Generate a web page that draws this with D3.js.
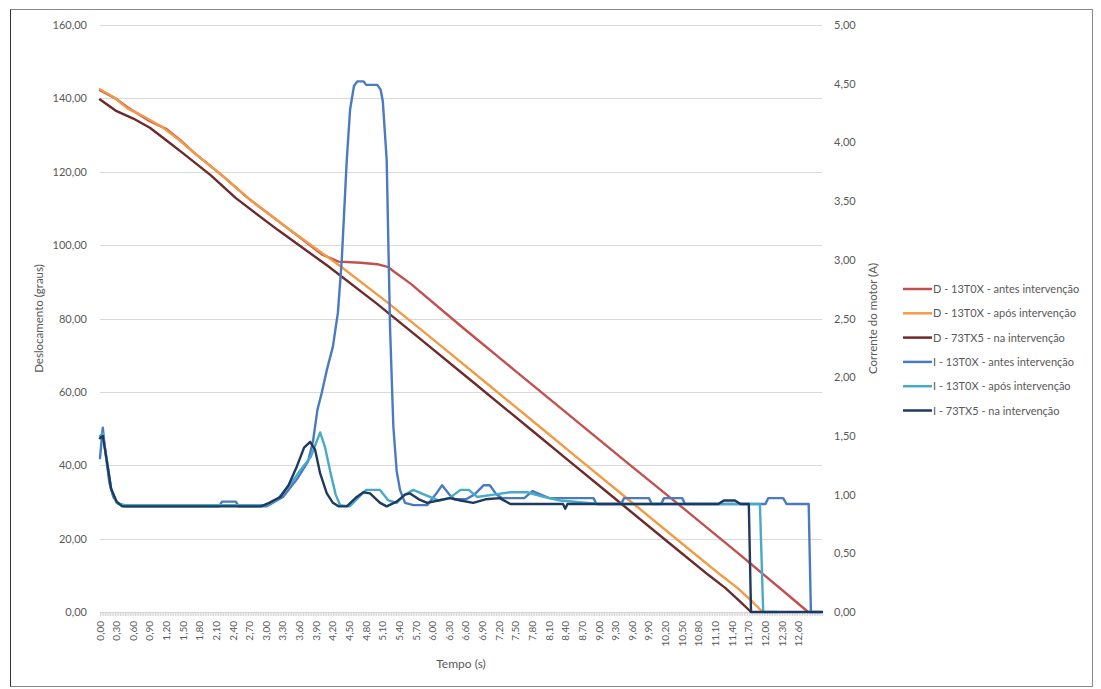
<!DOCTYPE html>
<html>
<head>
<meta charset="utf-8">
<script src="https://cdn.jsdelivr.net/npm/d3@7"></script>
<style>
    body { margin: 0; background: #fff; }
    text { font-family: Lato, "Open Sans", sans-serif; fill: #595959; }
</style>
</head>
<body>
<div id="graphic"></div>
<script>
// Dati: [tempo (s), valore]
var dAntes = [[0,142.2],[0.3,139.8],[0.5,137.5],[0.9,133.8],[1.2,131.6],[1.45,128.6],[1.71,125],[2.2,119],[2.67,112.8],[3.43,104.1],[4.0,97.5],[4.3,95.5],[4.7,95.2],[5.0,94.8],[5.2,94],[5.3,92.8],[5.6,89.5],[6.55,77.4],[7.5,65.6],[8.5,53.2],[9.5,40.8],[10.5,28.5],[11.5,16.1],[12.3,6],[12.77,0]];
var dApos = [[0,142.5],[0.25,140.3],[0.5,137.2],[0.8,135],[1.12,132.2],[1.4,129],[1.71,125],[2.2,119],[2.67,112.8],[3.43,104.1],[4.33,94.3],[5.2,84.2],[5.95,75],[7.0,62],[8.0,49.6],[8.66,41.4],[9.5,31],[10.5,18.6],[11.2,10],[11.5,6.5],[11.75,3],[11.95,0]];
var dNa = [[0,139.7],[0.3,136.5],[0.6,134.5],[0.9,132],[1.2,128.5],[1.5,125],[2.0,119],[2.45,112.8],[3.21,104.1],[4.11,94.3],[4.98,84.2],[5.73,75],[6.78,62],[7.78,49.6],[8.44,41.4],[9.28,31],[10.28,18.6],[10.98,10],[11.28,6.5],[11.53,3],[11.74,0]];

var iAntes = [[0,1.31],[0.05,1.57],[0.1,1.35],[0.17,1.1],[0.24,0.98],[0.33,0.92],[0.45,0.9],[2.15,0.9],[2.2,0.94],[2.45,0.94],[2.5,0.9],[3.0,0.9],[3.3,0.98],[3.55,1.13],[3.75,1.28],[3.84,1.45],[3.92,1.72],[4.0,1.87],[4.09,2.06],[4.2,2.26],[4.29,2.55],[4.36,3.0],[4.45,3.85],[4.51,4.28],[4.58,4.48],[4.64,4.52],[4.75,4.52],[4.8,4.49],[5.0,4.49],[5.06,4.45],[5.1,4.35],[5.17,3.85],[5.23,2.43],[5.29,1.58],[5.35,1.2],[5.41,1.04],[5.5,0.93],[5.65,0.91],[5.9,0.91],[6.05,1.0],[6.17,1.08],[6.3,1.0],[6.4,0.96],[6.6,0.96],[6.75,1.0],[6.92,1.08],[7.03,1.08],[7.15,1.0],[7.25,0.97],[7.65,0.97],[7.8,1.03],[7.95,1.0],[8.1,0.97],[8.9,0.97],[8.95,0.92],[9.4,0.92],[9.45,0.97],[9.9,0.97],[9.95,0.92],[10.12,0.92],[10.17,0.97],[10.5,0.97],[10.55,0.92],[12.0,0.92],[12.05,0.97],[12.32,0.97],[12.38,0.92],[12.78,0.92],[12.82,0],[13.02,0]];
var iApos = [[0,1.5],[0.05,1.52],[0.12,1.3],[0.2,1.05],[0.3,0.93],[0.45,0.91],[3.0,0.91],[3.2,0.96],[3.45,1.1],[3.6,1.2],[3.8,1.32],[3.97,1.53],[4.06,1.4],[4.15,1.2],[4.25,1.0],[4.33,0.91],[4.5,0.9],[4.65,0.97],[4.8,1.04],[5.05,1.04],[5.2,0.95],[5.35,0.93],[5.5,1.0],[5.65,1.04],[5.85,1.0],[6.1,0.95],[6.3,0.97],[6.5,1.04],[6.65,1.04],[6.8,0.98],[7.1,1.0],[7.4,1.02],[7.7,1.02],[8.0,0.98],[8.3,0.95],[9.0,0.92],[11.9,0.92],[11.96,0],[12.2,0]];
var iNa = [[0,1.48],[0.05,1.5],[0.12,1.3],[0.2,1.05],[0.3,0.94],[0.4,0.9],[2.9,0.9],[3.05,0.93],[3.25,0.98],[3.4,1.08],[3.55,1.24],[3.68,1.4],[3.79,1.45],[3.88,1.38],[3.97,1.18],[4.09,1.01],[4.2,0.93],[4.3,0.9],[4.45,0.9],[4.63,0.98],[4.75,1.02],[4.87,1.01],[5.05,0.93],[5.17,0.9],[5.35,0.94],[5.5,1.0],[5.59,1.01],[5.75,0.96],[5.9,0.93],[6.1,0.95],[6.31,0.97],[6.5,0.95],[6.73,0.93],[6.95,0.96],[7.21,0.97],[7.4,0.92],[8.35,0.92],[8.39,0.88],[8.43,0.92],[11.15,0.92],[11.25,0.95],[11.45,0.95],[11.55,0.92],[11.7,0.92],[11.74,0],[13.02,0]];

var seriesNames = ["D - 13T0X - antes intervenção", "D - 13T0X - após intervenção", "D - 73TX5 - na intervenção",
    "I - 13T0X - antes intervenção", "I - 13T0X - após intervenção", "I - 73TX5 - na intervenção"];
var seriesColors = ["#C4504E", "#F49A45", "#6E2A2A", "#4A7BC2", "#48AAC6", "#1F3A5F"];

var xTickValues = [0,0.3,0.6,0.9,1.2,1.5,1.8,2.1,2.4,2.7,3.0,3.3,3.6,3.9,4.2,4.5,4.8,5.1,5.4,5.7,6.0,6.3,6.6,6.9,7.2,7.5,7.8,8.1,8.4,8.7,9.0,9.3,9.6,9.9,10.2,10.5,10.8,11.1,11.4,11.7,12.0,12.3,12.6];
var leftTicks = [0,20,40,60,80,100,120,140,160];
var rightTicks = [0,0.5,1,1.5,2,2.5,3,3.5,4,4.5,5];

// Variabili
var W = 1101, H = 689;
var margin = {top: 25, left: 100, right: 279, bottom: 77};
var w = W - margin.left - margin.right;
var h = H - margin.top - margin.bottom;

var svg = d3.select('#graphic').append('svg')
    .attr('width', W).attr('height', H);

// cornice
svg.append('rect')
    .attr('x', 10.5).attr('y', 9.5)
    .attr('width', 1082).attr('height', 677)
    .attr('fill', 'none').attr('stroke', '#8a8a8a');
svg.append('line').attr('x1', 10.5).attr('x2', 10.5).attr('y1', 9.5).attr('y2', 686.5)
    .attr('stroke', '#333');

var g = svg.append('g').attr('transform', 'translate(' + margin.left + ',' + margin.top + ')');

var xScale = d3.scaleLinear().domain([0, 13.02]).range([0, w]);
var yLeft = d3.scaleLinear().domain([0, 160]).range([h, 0]);
var yRight = d3.scaleLinear().domain([0, 5]).range([h, 0]);

var fmt = function (v) { return d3.format('.2f')(v).replace('.', ','); };

// griglia
g.selectAll('.grid').data(leftTicks.slice(1)).enter().append('line')
    .attr('x1', 0).attr('x2', w)
    .attr('y1', function (d) { return Math.round(yLeft(d)) + 0.5; })
    .attr('y2', function (d) { return Math.round(yLeft(d)) + 0.5; })
    .attr('stroke', '#d9d9d9').attr('stroke-width', 1);

// asse x con tacche fitte
var minorTicks = d3.range(0, 13.03, 0.03);
var xAxis = d3.axisBottom(xScale).tickValues(minorTicks).tickSize(4).tickFormat('');
var xg = g.append('g').attr('transform', 'translate(0,' + h + ')').call(xAxis);
xg.select('.domain').attr('stroke', '#d0d0d0');
xg.selectAll('.tick line').attr('stroke', '#d6d6d6');

g.selectAll('.xlabel').data(xTickValues).enter().append('text')
    .attr('transform', function (d) { return 'translate(' + (xScale(d) + 3.5) + ',' + (h + 9) + ') rotate(-90)'; })
    .attr('text-anchor', 'end')
    .style('font-size', '10px')
    .text(fmt);

// assi y
var yAxisL = d3.axisLeft(yLeft).tickValues(leftTicks).tickSize(0).tickPadding(13).tickFormat(fmt);
var yl = g.append('g').call(yAxisL);
yl.select('.domain').remove();
yl.selectAll('text').style('font-size', '11px').style('fill', '#595959').style('font-family', 'Lato');

var yAxisR = d3.axisRight(yRight).tickValues(rightTicks).tickSize(0).tickPadding(12).tickFormat(fmt);
var yr = g.append('g').attr('transform', 'translate(' + w + ',0)').call(yAxisR);
yr.select('.domain').remove();
yr.selectAll('text').style('font-size', '11px').style('fill', '#595959').style('font-family', 'Lato');

// titoli assi
g.append('text')
    .attr('transform', 'translate(-57,' + (h / 2) + ') rotate(-90)')
    .attr('text-anchor', 'middle')
    .style('font-size', '11.5px')
    .text('Deslocamento (graus)');
g.append('text')
    .attr('transform', 'translate(' + (w + 55) + ',' + (h / 2) + ') rotate(-90)')
    .attr('text-anchor', 'middle')
    .style('font-size', '11.5px')
    .text('Corrente do motor (A)');
g.append('text')
    .attr('x', w / 2).attr('y', h + 56)
    .attr('text-anchor', 'middle')
    .style('font-size', '12px')
    .text('Tempo (s)');

// linee
var lineL = d3.line().x(function (d) { return xScale(d[0]); }).y(function (d) { return yLeft(d[1]); });
var lineR = d3.line().x(function (d) { return xScale(d[0]); }).y(function (d) { return yRight(d[1]); });

var series = [
    {data: dAntes, line: lineL},
    {data: dApos, line: lineL},
    {data: dNa, line: lineL},
    {data: iAntes, line: lineR},
    {data: iApos, line: lineR},
    {data: iNa, line: lineR}
];
series.forEach(function (s, i) {
    g.append('path')
        .attr('d', s.line(s.data))
        .attr('fill', 'none')
        .attr('stroke', seriesColors[i])
        .attr('stroke-width', 2.4)
        .attr('stroke-linejoin', 'round')
        .attr('stroke-linecap', 'round');
});

// legenda
var legend = svg.append('g').attr('transform', 'translate(903,289)');
var item = legend.selectAll('.item').data(seriesNames).enter().append('g')
    .attr('transform', function (d, i) { return 'translate(0,' + (i * 24.3) + ')'; });
item.append('line')
    .attr('x1', 0).attr('x2', 29).attr('y1', 0).attr('y2', 0)
    .attr('stroke', function (d, i) { return seriesColors[i]; })
    .attr('stroke-width', 2.5);
item.append('text')
    .attr('x', 30).attr('y', 4)
    .style('font-size', '11px')
    .text(function (d) { return d; });
</script>
</body>
</html>
